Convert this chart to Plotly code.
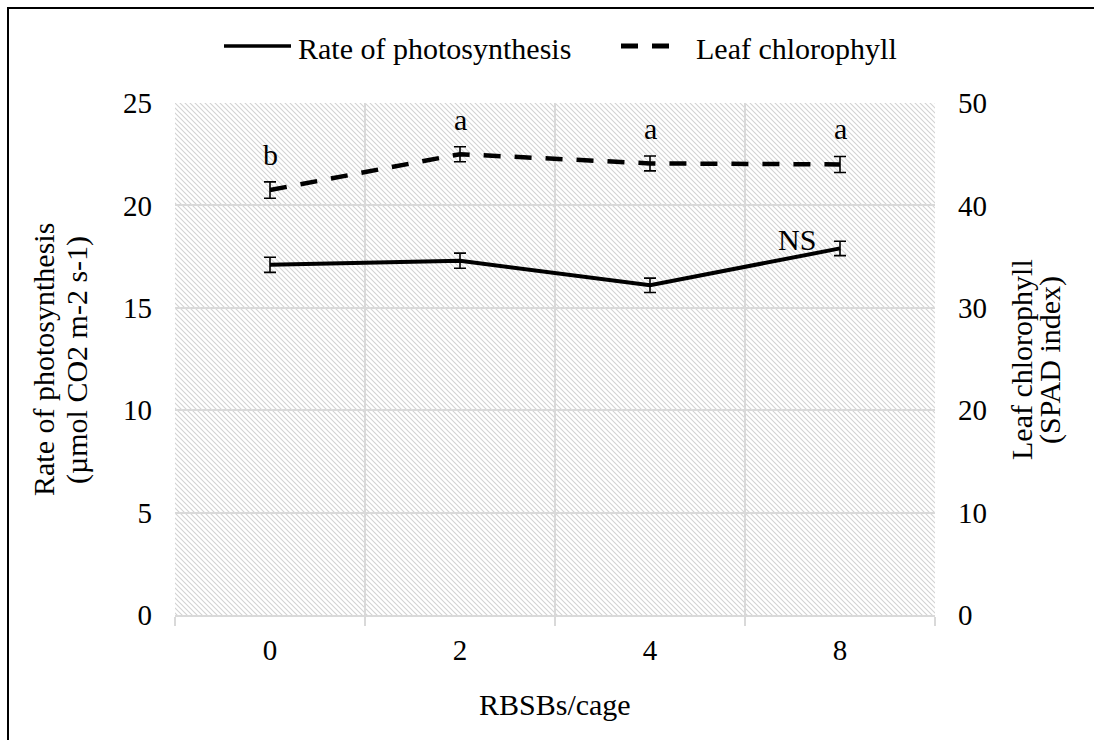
import base64
import plotly.graph_objects as go

# Stocking density (RBSBs per cage)
categories = ["0", "2", "4", "8"]

# Rate of photosynthesis, µmol CO2 m-2 s-1 (mean and standard error)
photosynthesis = [17.1, 17.3, 16.1, 17.9]
photosynthesis_se = [0.37, 0.37, 0.35, 0.35]

# Leaf chlorophyll, SPAD index (mean and standard error)
chlorophyll = [41.5, 45.0, 44.1, 44.0]
chlorophyll_se = [0.8, 0.73, 0.73, 0.78]

# Mean separation letters (chlorophyll) and the photosynthesis note
chlorophyll_letters = ["b", "a", "a", "a"]
photosynthesis_note = "NS"

left_ticks = [0, 5, 10, 15, 20, 25]
right_ticks = [0, 10, 20, 30, 40, 50]

# Page geometry
W, H = 1094, 740
ML, MR, MT, MB = 175, 159, 103, 125
PW, PH = W - ML - MR, H - MT - MB

FONT = '"Liberation Serif", "Times New Roman", Times, serif'
GRID = "#d9d9d9"


def px_x(px):
    return (px - ML) / PW


def px_y(py):
    return (H - MB - py) / PH


# Diagonal hatch used as the plot-area background
hatch_svg = (
    f'<svg xmlns="http://www.w3.org/2000/svg" width="{PW}" height="{PH}">'
    '<defs><pattern id="d" width="5" height="5" patternUnits="userSpaceOnUse">'
    '<path d="M-1,-1 L6,6 M-1,4 L1,6 M4,-1 L6,1" stroke="#d2d2d2" stroke-width="1.1"/>'
    '</pattern></defs>'
    '<rect width="100%" height="100%" fill="#ffffff"/>'
    '<rect width="100%" height="100%" fill="url(#d)"/></svg>'
)
hatch_src = "data:image/svg+xml;base64," + base64.b64encode(hatch_svg.encode()).decode()

fig = go.Figure()

fig.add_trace(go.Scatter(
    x=categories, y=photosynthesis, name="Rate of photosynthesis",
    mode="lines", line=dict(color="black", width=4),
    error_y=dict(type="data", array=photosynthesis_se, visible=True,
                 color="black", thickness=1.6, width=6),
    yaxis="y", showlegend=False,
))

fig.add_trace(go.Scatter(
    x=categories, y=chlorophyll, name="Leaf chlorophyll",
    mode="lines", line=dict(color="black", width=4.5, dash="17px,14px"),
    error_y=dict(type="data", array=chlorophyll_se, visible=True,
                 color="black", thickness=1.6, width=6),
    yaxis="y2", showlegend=False,
))

annotations = []
label_font = dict(family=FONT, size=30, color="black")

# Letters above the chlorophyll error bars (category axis positions are indices)
for i, (val, se, letter) in enumerate(zip(chlorophyll, chlorophyll_se, chlorophyll_letters)):
    annotations.append(dict(
        x=i, y=val + se, xref="x", yref="y2", text=letter, showarrow=False,
        xanchor="center", yanchor="bottom", yshift=9, font=label_font,
    ))

# NS note beside the last photosynthesis point
annotations.append(dict(
    x=len(categories) - 1, y=photosynthesis[-1], xref="x", yref="y",
    text=photosynthesis_note, showarrow=False, xanchor="right", yanchor="middle",
    xshift=-22, yshift=9, font=label_font,
))


def paper_text(px, py, text, angle=0, xanchor="center"):
    return dict(x=px_x(px), y=px_y(py), xref="paper", yref="paper", text=text,
                textangle=angle, showarrow=False, xanchor=xanchor, yanchor="middle",
                font=label_font)


# Axis titles
annotations += [
    paper_text(43, 360, "Rate of photosynthesis", -90),
    paper_text(77, 360, "(µmol CO2 m-2 s-1)", -90),
    paper_text(1021, 360, "Leaf chlorophyll", -90),
    paper_text(1050, 360, "(SPAD index)", -90),
    paper_text(555, 704, "RBSBs/cage"),
]

# Legend entries
annotations += [
    paper_text(296, 48, "Rate of photosynthesis", xanchor="left"),
    paper_text(694, 48, "Leaf chlorophyll", xanchor="left"),
]

# Frame around the figure: only its left and top edges fall inside the page
fx0, fy_top, fx1, fy_bot = px_x(8), px_y(8), px_x(W + 60), px_y(H + 60)
shapes = [
    dict(type="path", xref="paper", yref="paper",
         path=f"M {fx0},{fy_bot} L {fx0},{fy_top} L {fx1},{fy_top}",
         line=dict(color="black", width=2), layer="above"),
    # legend samples
    dict(type="line", xref="paper", yref="paper",
         x0=px_x(224), x1=px_x(291), y0=px_y(46), y1=px_y(46),
         line=dict(color="black", width=3.5)),
    dict(type="line", xref="paper", yref="paper",
         x0=px_x(621), x1=px_x(673), y0=px_y(46), y1=px_y(46),
         line=dict(color="black", width=5, dash="17px,14px")),
]

fig.update_layout(
    width=W, height=H,
    margin=dict(l=ML, r=MR, t=MT, b=MB),
    paper_bgcolor="white", plot_bgcolor="rgba(0,0,0,0)",
    font=dict(family=FONT, size=29, color="black"),
    showlegend=False,
    images=[dict(source=hatch_src, xref="paper", yref="paper", x=0, y=1,
                 sizex=1, sizey=1, sizing="stretch", xanchor="left", yanchor="top",
                 layer="below")],
    xaxis=dict(
        type="category", categoryorder="array", categoryarray=categories,
        range=[-0.5, len(categories) - 0.5], tickson="boundaries",
        ticks="outside", ticklen=9, tickcolor=GRID, tickwidth=1.5,
        showgrid=True, gridcolor=GRID, gridwidth=1.5,
        showline=True, linecolor=GRID, linewidth=1.5,
        tickfont=dict(family=FONT, size=29, color="black"), ticklabelstandoff=8,
        zeroline=False, fixedrange=True,
    ),
    yaxis=dict(
        range=[0, 25], tickvals=left_ticks, ticks="",
        showgrid=True, gridcolor=GRID, gridwidth=1.5, zeroline=False,
        showline=False, tickfont=dict(family=FONT, size=29, color="black"),
        ticklabelstandoff=22,
    ),
    yaxis2=dict(
        range=[0, 50], tickvals=right_ticks, ticks="", overlaying="y", side="right",
        showgrid=False, zeroline=False, showline=False,
        tickfont=dict(family=FONT, size=29, color="black"), ticklabelstandoff=22,
    ),
    annotations=annotations,
    shapes=shapes,
)

fig.write_html("out.html")
